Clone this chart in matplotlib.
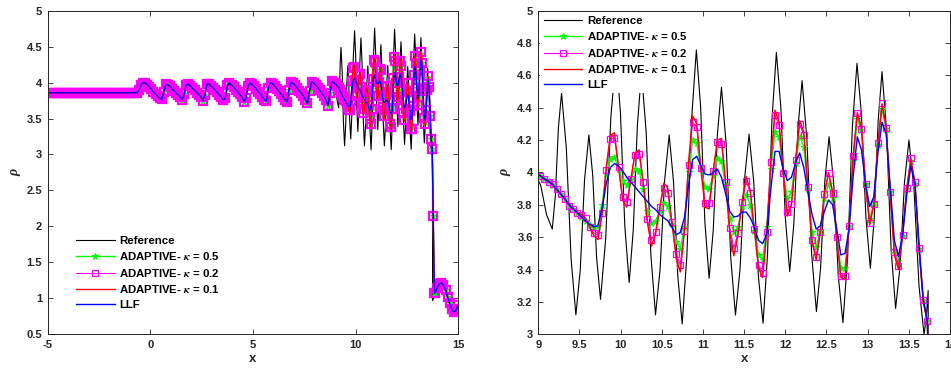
import numpy as np
import matplotlib
matplotlib.use("Agg")
import matplotlib.pyplot as plt
from matplotlib.ticker import FuncFormatter

plt.rcParams['font.family'] = ['Liberation Sans', 'DejaVu Sans']
plt.rcParams['font.weight'] = 'bold'
plt.rcParams['mathtext.fontset'] = 'stix'

# ---- smooth part of the solution (all schemes coincide here) ----
# x spacing read as 0.1 (left panel band)
x_smooth = np.round(np.arange(-4.95, 9.0, 0.1), 3)
rho_const = [3.857] * 44          # x = -4.95 ... -0.65
rho_saw = [3.90, 3.97, 4.0, 3.995, 3.97, 3.94, 3.905, 3.87, 3.84, 3.81,
           3.785, 3.765, 3.87, 3.975, 3.97, 3.945, 3.915, 3.885, 3.855, 3.83,
           3.80, 3.76, 3.84, 3.97, 3.975, 3.95, 3.92, 3.89, 3.86, 3.83,
           3.80, 3.75, 3.82, 3.975, 3.98, 3.955, 3.925, 3.895, 3.865, 3.83,
           3.80, 3.76, 3.78, 3.96, 3.99, 3.965, 3.935, 3.90, 3.87, 3.835,
           3.80, 3.735, 3.78, 3.95, 3.995, 3.975, 3.945, 3.91, 3.875, 3.84,
           3.80, 3.76, 3.74, 3.93, 4.0, 3.985, 3.95, 3.915, 3.88, 3.845,
           3.805, 3.76, 3.73, 3.90, 4.005, 3.99, 3.96, 3.92, 3.885, 3.85,
           3.81, 3.76, 3.71, 3.88, 4.01, 3.995, 3.965, 3.93, 3.89, 3.85,
           3.81, 3.76, 3.68, 3.86, 4.015, 3.995]
rho_smooth = rho_const + rho_saw

# ---- oscillatory part, mesh spacing 0.05 ----
x_mesh = np.round(np.arange(9.025, 13.74, 0.05), 3)

rho_k05 = [3.98, 3.96, 3.945, 3.925, 3.895, 3.865, 3.835, 3.80, 3.775, 3.75,
           3.725, 3.70, 3.675, 3.66, 3.67, 3.80, 3.99, 4.08, 4.095, 4.02,
           3.95, 3.92, 3.96, 4.02, 4.01, 3.90, 3.76, 3.69, 3.70, 3.76,
           3.81, 3.79, 3.68, 3.57, 3.53, 3.66, 4.0, 4.2, 4.18, 4.03,
           3.91, 3.90, 3.98, 4.09, 4.07, 3.92, 3.72, 3.63, 3.66, 3.79,
           3.86, 3.80, 3.64, 3.49, 3.46, 3.66, 4.02, 4.25, 4.22, 4.0,
           3.84, 3.88, 4.06, 4.22, 4.16, 3.90, 3.63, 3.54, 3.64, 3.84,
           3.93, 3.84, 3.60, 3.41, 3.41, 3.67, 4.07, 4.33, 4.26, 3.93,
           3.71, 3.81, 4.17, 4.39, 4.27, 3.88, 3.52, 3.45, 3.61, 3.90,
           4.07, 3.93, 3.53, 3.21, 3.08]

rho_k02 = [3.978, 3.957, 3.943, 3.927, 3.896, 3.865, 3.836, 3.795, 3.775, 3.752,
           3.737, 3.717, 3.665, 3.624, 3.613, 3.747, 4.015, 4.205, 4.215, 4.036,
           3.846, 3.815, 3.96, 4.108, 4.114, 3.943, 3.712, 3.583, 3.634, 3.784,
           3.902, 3.871, 3.692, 3.496, 3.428, 3.638, 4.046, 4.31, 4.279, 4.03,
           3.81, 3.81, 4.01, 4.19, 4.176, 3.943, 3.655, 3.531, 3.624, 3.82,
           3.947, 3.875, 3.649, 3.428, 3.377, 3.634, 4.063, 4.355, 4.293, 3.995,
           3.754, 3.805, 4.077, 4.30, 4.23, 3.912, 3.583, 3.48, 3.634, 3.867,
           3.995, 3.875, 3.603, 3.36, 3.36, 3.669, 4.104, 4.365, 4.267, 3.929,
           3.686, 3.805, 4.18, 4.427, 4.277, 3.877, 3.51, 3.424, 3.613, 3.902,
           4.087, 3.939, 3.531, 3.212, 3.082]

rho_k01 = [3.98, 3.96, 3.945, 3.925, 3.895, 3.865, 3.835, 3.80, 3.775, 3.755,
           3.74, 3.715, 3.66, 3.61, 3.585, 3.74, 4.03, 4.23, 4.245, 4.03,
           3.83, 3.785, 3.96, 4.12, 4.14, 3.93, 3.69, 3.545, 3.62, 3.78,
           3.935, 3.90, 3.68, 3.47, 3.385, 3.64, 4.06, 4.35, 4.30, 4.02,
           3.785, 3.775, 4.01, 4.20, 4.21, 3.94, 3.63, 3.485, 3.61, 3.82,
           3.975, 3.89, 3.64, 3.41, 3.35, 3.63, 4.07, 4.385, 4.31, 3.99,
           3.73, 3.80, 4.08, 4.32, 4.25, 3.90, 3.57, 3.46, 3.63, 3.87,
           4.0, 3.88, 3.59, 3.35, 3.34, 3.67, 4.11, 4.37, 4.28, 3.92,
           3.675, 3.80, 4.19, 4.42, 4.28, 3.86, 3.49, 3.40, 3.61, 3.90,
           4.08, 3.93, 3.52, 3.20, 3.08]

rho_llf = [3.98, 3.96, 3.945, 3.925, 3.895, 3.865, 3.835, 3.80, 3.775, 3.75,
           3.725, 3.70, 3.68, 3.665, 3.67, 3.78, 3.93, 4.03, 4.055, 4.04,
           4.01, 3.97, 3.94, 3.91, 3.88, 3.85, 3.82, 3.79, 3.77, 3.74,
           3.72, 3.70, 3.66, 3.615, 3.63, 3.72, 3.92, 4.08, 4.10, 4.04,
           3.99, 3.985, 4.0, 4.02, 3.97, 3.87, 3.76, 3.725, 3.73, 3.755,
           3.755, 3.72, 3.66, 3.58, 3.56, 3.62, 3.90, 4.13, 4.13, 4.02,
           3.95, 3.97, 4.06, 4.12, 4.03, 3.88, 3.74, 3.65, 3.67, 3.76,
           3.83, 3.80, 3.65, 3.49, 3.50, 3.65, 3.98, 4.22, 4.14, 3.93,
           3.79, 3.85, 4.12, 4.31, 4.24, 3.91, 3.58, 3.48, 3.62, 3.86,
           4.04, 3.93, 3.55, 3.22, 3.08]

# ---- shock and post-shock part (shared by the schemes) ----
x_shock = [13.775, 13.825]
rho_shock = [2.15, 1.07]
x_post = np.round(np.arange(13.875, 15.0, 0.1), 3)
rho_post = [1.08, 1.15, 1.20, 1.215, 1.18, 1.11, 1.02, 0.93, 0.85, 0.81, 0.83, 0.91]

# ---- reference solution, oscillatory part ----
x_ref_osc = [9.03, 9.10, 9.17, 9.208, 9.245, 9.283, 9.341, 9.399, 9.457,
             9.510, 9.562, 9.615, 9.662, 9.709, 9.756, 9.819, 9.882, 9.945,
             9.998, 10.051, 10.104, 10.154, 10.204, 10.254, 10.311, 10.367, 10.424,
             10.479, 10.535, 10.59, 10.643, 10.695, 10.748, 10.805, 10.863, 10.92,
             10.972, 11.023, 11.075, 11.125, 11.175, 11.225, 11.282, 11.338, 11.395,
             11.45, 11.505, 11.56, 11.617, 11.673, 11.73, 11.784, 11.838, 11.892,
             11.946, 12.0, 12.054, 12.104, 12.154, 12.204, 12.262, 12.32, 12.378,
             12.429, 12.481, 12.532, 12.588, 12.644, 12.70, 12.757, 12.814, 12.871,
             12.925, 12.979, 13.033, 13.08, 13.128, 13.175, 13.23, 13.285, 13.34,
             13.394, 13.448, 13.502, 13.563, 13.624, 13.685, 13.712, 13.735, 13.745]
rho_ref_osc = [3.92, 3.74, 3.65, 3.86, 4.28, 4.49, 4.148, 3.463, 3.12,
               3.398, 3.954, 4.232, 3.978, 3.47, 3.216, 3.592, 4.344, 4.72,
               4.37, 3.67, 3.32, 3.645, 4.295, 4.62, 4.245, 3.495, 3.12,
               3.398, 3.954, 4.232, 3.94, 3.356, 3.064, 3.487, 4.334, 4.757,
               4.404, 3.699, 3.346, 3.641, 4.231, 4.526, 4.174, 3.471, 3.119,
               3.398, 3.957, 4.236, 3.944, 3.36, 3.068, 3.487, 4.324, 4.742,
               4.403, 3.726, 3.387, 3.682, 4.272, 4.567, 4.21, 3.497, 3.14,
               3.41, 3.951, 4.221, 3.934, 3.359, 3.072, 3.473, 4.274, 4.674,
               4.358, 3.725, 3.408, 3.712, 4.319, 4.623, 4.257, 3.526, 3.16,
               3.42, 3.94, 4.2, 3.9, 3.3, 3.0, 3.1, 3.27, 0.97]
x_ref_post = [13.8, 13.9, 14.0, 14.1, 14.2, 14.3, 14.4, 14.5, 14.6, 14.7, 14.8, 14.9, 15.0]
rho_ref_post = [1.01, 1.08, 1.15, 1.2, 1.2, 1.15, 1.07, 0.98, 0.89, 0.83, 0.80, 0.83, 0.90]

labels = ['Reference', r'ADAPTIVE- $\kappa$ = 0.5', r'ADAPTIVE- $\kappa$ = 0.2',
          r'ADAPTIVE- $\kappa$ = 0.1', 'LLF']

x_num = np.concatenate([x_smooth, x_mesh, x_shock, x_post])
x_ref = np.concatenate([x_smooth, x_ref_osc, x_ref_post])
rho_ref = np.concatenate([rho_smooth, rho_ref_osc, rho_ref_post])


def scheme(rho_osc):
    return np.concatenate([rho_smooth, rho_osc, rho_shock, rho_post])


def draw(ax, sq_size, sq_edge):
    ax.plot(x_ref, rho_ref, color='black', lw=0.8, label=labels[0])
    ax.plot(x_num, scheme(rho_k05), color=(0, 1, 0), lw=1.0, marker='*',
            ms=5, mew=0.7, label=labels[1])
    ax.plot(x_num, scheme(rho_k02), color=(1, 0, 1), lw=0.8, marker='s',
            ms=sq_size, mew=sq_edge, mfc='none', label=labels[2])
    ax.plot(x_num, scheme(rho_k01), color=(1, 0, 0), lw=1.0, label=labels[3])
    ax.plot(x_num, scheme(rho_llf), color=(0, 0, 1), lw=1.0, label=labels[4])


def style(ax, xlim, ylim, xticks, yticks):
    ax.set_xlim(xlim)
    ax.set_ylim(ylim)
    ax.set_xticks(xticks)
    ax.set_yticks(yticks)
    fmt = FuncFormatter(lambda v, p: '%g' % round(v, 3))
    ax.xaxis.set_major_formatter(fmt)
    ax.yaxis.set_major_formatter(fmt)
    ax.tick_params(direction='in', length=3.5, width=0.6, top=True, right=True,
                   labelsize=8, colors='#262626', pad=4)
    for lab in ax.get_xticklabels() + ax.get_yticklabels():
        lab.set_fontweight('bold')
    for sp in ax.spines.values():
        sp.set_linewidth(0.7)
        sp.set_color('#262626')
    ax.set_xlabel('x', fontsize=9.5, fontweight='bold', color='#262626', labelpad=2)
    ax.set_ylabel('ρ', fontsize=10, fontweight='bold', fontstyle='italic',
                  family=['Liberation Serif', 'DejaVu Serif'], color='#262626')


def make_legend(ax, **kw):
    leg = ax.legend(fontsize=8.2, handlelength=3.4, handletextpad=0.4,
                    labelspacing=0.4, numpoints=1, frameon=True, edgecolor='none',
                    facecolor='white', framealpha=1, borderpad=0.3,
                    borderaxespad=0, **kw)
    for t in leg.get_texts():
        t.set_fontweight('bold')
    # legend square drawn with a thin edge, as in the original
    leg.legend_handles[2].set_markersize(5)
    leg.legend_handles[2].set_markeredgewidth(0.9)
    return leg


fig = plt.figure(figsize=(9.51, 3.79), dpi=100)
ax1 = fig.add_axes([0.0502, 0.118, 0.4318, 0.854])
ax2 = fig.add_axes([0.566, 0.118, 0.4329, 0.854])

# the left overview is drawn with heavier square edges so the dense
# marker band reads as solid, like in the original
draw(ax1, 5.5, 1.6)
style(ax1, (-5, 15), (0.5, 5), [-5, 0, 5, 10, 15], np.arange(0.5, 5.01, 0.5))
make_legend(ax1, loc='lower left', bbox_to_anchor=(0.06, 0.065))

draw(ax2, 5, 0.9)
style(ax2, (9, 14), (3, 5), np.arange(9, 14.01, 0.5), np.arange(3, 5.01, 0.2))
make_legend(ax2, loc='upper left', bbox_to_anchor=(0.005, 0.995))

fig.savefig('out.png', dpi=100)
